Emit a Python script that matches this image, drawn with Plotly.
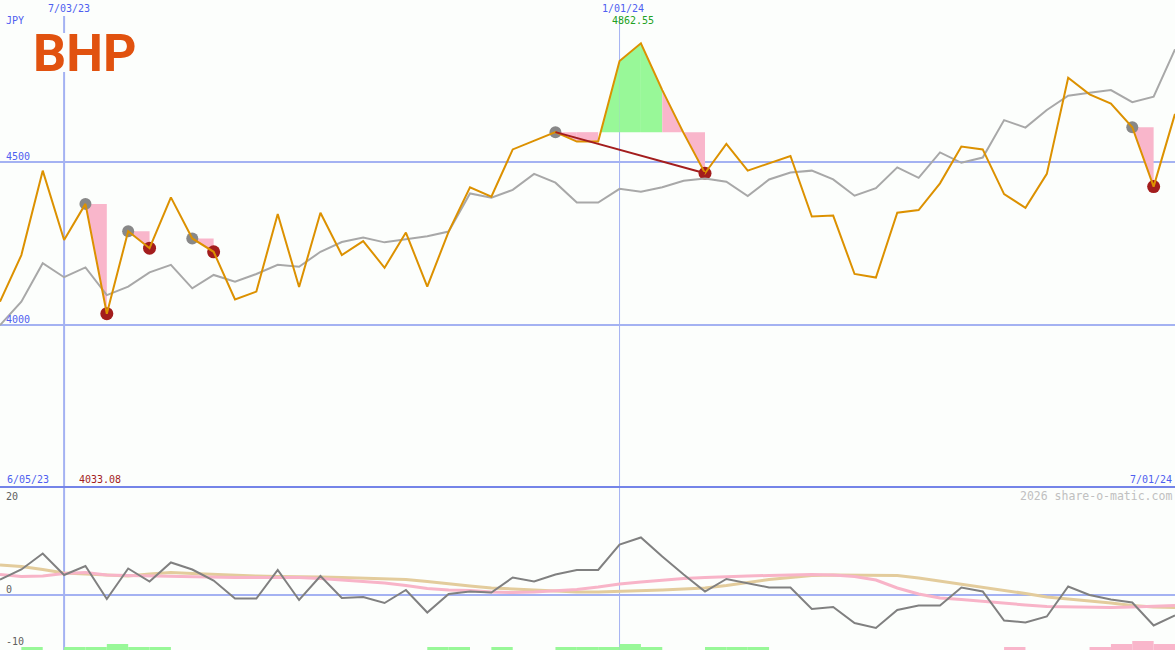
import plotly.graph_objects as go
import pandas as pd

# ---------------- data ----------------
dates = pd.date_range("2023-06-12", periods=56, freq="7D")

price = [4070, 4213, 4472, 4259, 4370, 4033.08, 4286, 4234, 4390, 4264,
         4223, 4077, 4101, 4339, 4115, 4343, 4213, 4256, 4174, 4282,
         4116, 4285, 4421, 4392, 4537, 4563, 4590, 4561, 4561, 4808,
         4862.55, 4719, 4587, 4464, 4554, 4472, 4494, 4517, 4331, 4334,
         4155, 4144, 4343, 4351, 4433, 4546, 4537, 4400, 4358, 4462,
         4757, 4706, 4678, 4605, 4423, 4646]

avg = [3998, 4070, 4188, 4145, 4175, 4090, 4116, 4160, 4183, 4111,
       4152, 4131, 4155, 4183, 4177, 4223, 4253, 4267, 4252, 4261,
       4271, 4285, 4402, 4389, 4413, 4462, 4435, 4374, 4374, 4416,
       4407, 4421, 4441, 4448, 4438, 4394, 4445, 4466, 4472, 4445,
       4395, 4418, 4482, 4450, 4528, 4496, 4512, 4627, 4604, 4658,
       4702, 4711, 4719, 4682, 4699, 4844]

momentum = [3.1, 5.1, 8.3, 4.0, 5.8, -0.8, 5.3, 2.7, 6.5, 5.1,
            2.9, -0.7, -0.7, 5.0, -1.0, 3.8, -0.6, -0.4, -1.6, 1.0,
            -3.5, 0.2, 0.7, 0.5, 3.5, 2.7, 4.1, 5.0, 5.0, 10.1,
            11.5, 7.7, 4.1, 0.7, 3.2, 2.3, 1.5, 1.5, -2.8, -2.4,
            -5.6, -6.6, -3.0, -2.1, -2.1, 1.5, 0.7, -5.1, -5.5, -4.3,
            1.7, 0.0, -0.9, -1.5, -6.1, -4.1]

signal_fast = [4.1, 3.7, 3.8, 4.3, 4.5, 4.0, 3.9, 3.8, 3.8, 3.7,
               3.6, 3.5, 3.5, 3.5, 3.5, 3.3, 3.0, 2.7, 2.4, 1.9,
               1.3, 1.0, 0.9, 0.6, 0.5, 0.6, 0.8, 1.1, 1.6, 2.2,
               2.6, 3.0, 3.3, 3.5, 3.7, 3.8, 3.9, 4.0, 4.1, 4.0,
               3.7, 3.0, 1.4, 0.2, -0.6, -0.9, -1.3, -1.6, -2.0, -2.3,
               -2.4, -2.5, -2.5, -2.4, -2.2, -2.1]

signal_slow = [6.0, 5.7, 5.1, 4.4, 4.2, 4.0, 3.8, 4.2, 4.5, 4.3,
               4.1, 3.9, 3.8, 3.7, 3.7, 3.6, 3.5, 3.4, 3.3, 3.1,
               2.7, 2.2, 1.8, 1.4, 1.2, 1.0, 0.8, 0.6, 0.6, 0.7,
               0.9, 1.0, 1.2, 1.4, 1.9, 2.5, 3.1, 3.5, 3.9, 4.0,
               4.0, 4.0, 3.9, 3.4, 2.8, 2.2, 1.6, 1.0, 0.3, -0.4,
               -0.8, -1.1, -1.6, -2.1, -2.4, -2.5]

green_lvl = [0, 1, 0, 1, 1, 2, 1, 1, 0, 0,
             0, 0, 0, 0, 0, 0, 0, 0, 0, 0,
             1, 1, 0, 1, 0, 0, 1, 1, 1, 2,
             1, 0, 0, 1, 1, 1, 0, 0, 0, 0,
             0, 0, 0, 0, 0, 0, 0, 0, 0, 0,
             0, 0, 0, 0, 0, 0]

pink_lvl = [0] * 47 + [1, 0, 0, 0, 1, 2, 3, 2, 0]

# (peak index, trough index)
drawdowns = [(4, 5), (6, 7), (9, 10), (26, 33), (53, 54)]
main_drawdown = (26, 33)

date_labels = ["6/05/23", "7/03/23", "1/01/24", "7/01/24"]
currency = "JPY"
ticker = "BHP"
watermark = "2026 share-o-matic.com"
y_ticks_top = [4000, 4500]
y_ticks_bottom = [-10, 0, 20]

# ---------------- styles ----------------
W, H = 1175, 650
SPLIT = 487  # pixel row dividing panels
BG = "#fcfefc"
GRID = "#a4b2f2"
DIVIDER = "#7484e8"
LABEL = "#4f5ff0"
ORANGE = "#dc9100"
GRAYLINE = "#a8a8a8"
DARKGRAY = "#808080"
PINK = "#f9b6cb"
GREEN = "#98f898"
DARKRED = "#a31d1d"
TAN = "#e3cc9c"
PINKLINE = "#f8b4c8"
FONT = "DejaVu Sans Mono"

week = pd.Timedelta(days=7)

fig = go.Figure()

# drawdown fills
for p, t in drawdowns:
    level = price[p]
    for j in range(p, t):
        x0, x1 = dates[j], dates[j + 1]
        y0, y1 = price[j], price[j + 1]
        if y1 > level:
            if y0 < level:
                f = (level - y0) / (y1 - y0)
                xc = x0 + (x1 - x0) * f
                xs = [xc, x1, x1, xc]
                ys = [level, y1, level, level]
            else:
                xs = [x0, x0, x1, x1, x0]
                ys = [level, y0, y1, level, level]
            col = GREEN
        else:
            xs = [x0, x0, x1, x1, x0]
            ys = [level, y0, y1, level, level]
            col = PINK
        fig.add_trace(go.Scatter(x=xs, y=ys, fill="toself", fillcolor=col,
                                 mode="none", hoverinfo="skip", xaxis="x", yaxis="y"))

# peak / trough markers
fig.add_trace(go.Scatter(x=[dates[p] for p, t in drawdowns], y=[price[p] for p, t in drawdowns],
                         mode="markers", marker=dict(size=12, color="#888888"),
                         xaxis="x", yaxis="y"))
fig.add_trace(go.Scatter(x=[dates[t] for p, t in drawdowns], y=[price[t] for p, t in drawdowns],
                         mode="markers", marker=dict(size=13, color=DARKRED),
                         xaxis="x", yaxis="y"))

# lines
fig.add_trace(go.Scatter(x=dates, y=avg, mode="lines", line=dict(color=GRAYLINE, width=2),
                         xaxis="x", yaxis="y"))
fig.add_trace(go.Scatter(x=dates, y=price, mode="lines", line=dict(color=ORANGE, width=2),
                         xaxis="x", yaxis="y"))
mp, mt = main_drawdown
fig.add_trace(go.Scatter(x=[dates[mp], dates[mt]], y=[price[mp], price[mt]], mode="lines",
                         line=dict(color=DARKRED, width=2), xaxis="x", yaxis="y"))

# bottom panel
fig.add_trace(go.Bar(x=dates + week / 2, y=green_lvl, width=week.total_seconds() * 1000,
                     marker=dict(color=GREEN, line=dict(width=0)), xaxis="x2", yaxis="y3"))
fig.add_trace(go.Bar(x=dates + week / 2, y=pink_lvl, width=week.total_seconds() * 1000,
                     marker=dict(color=PINK, line=dict(width=0)), xaxis="x2", yaxis="y3"))
fig.add_trace(go.Scatter(x=dates, y=signal_slow, mode="lines", line=dict(color=TAN, width=3),
                         xaxis="x2", yaxis="y2"))
fig.add_trace(go.Scatter(x=dates, y=signal_fast, mode="lines", line=dict(color=PINKLINE, width=3),
                         xaxis="x2", yaxis="y2"))
fig.add_trace(go.Scatter(x=dates, y=momentum, mode="lines", line=dict(color=DARKGRAY, width=2),
                         xaxis="x2", yaxis="y2"))

split_frac = 1 - SPLIT / H

# pixel -> value conversions for the axis ranges (top: 4500 at row 161.5, 4000 at 324.5)
px_per_unit_top = (324.5 - 161.5) / 500.0
top_max = 4500 + 161.5 / px_per_unit_top
top_min = 4500 - (SPLIT - 161.5) / px_per_unit_top
px_per_unit_bot = 5.0
bot_max = (595 - SPLIT) / px_per_unit_bot
bot_min = -(H - 595) / px_per_unit_bot

xr = [dates[0], dates[-1]]
fig.update_layout(
    width=W, height=H, margin=dict(l=0, r=0, t=0, b=0),
    paper_bgcolor=BG, plot_bgcolor=BG, showlegend=False, barmode="overlay",
    xaxis=dict(domain=[0, 1], range=xr, visible=False, anchor="y"),
    xaxis2=dict(domain=[0, 1], range=xr, visible=False, anchor="y2", matches="x"),
    yaxis=dict(domain=[split_frac, 1], range=[top_min, top_max], tickvals=y_ticks_top,
               showticklabels=False, showgrid=True, gridcolor=GRID, gridwidth=2,
               zeroline=False, showline=False, ticks=""),
    yaxis2=dict(domain=[0, split_frac], range=[bot_min, bot_max], tickvals=y_ticks_bottom,
                showticklabels=False, showgrid=False, zeroline=True, zerolinecolor=GRID,
                zerolinewidth=2, showline=False, ticks="", anchor="x2"),
    yaxis3=dict(overlaying="y2", anchor="x2", range=[0, (H - SPLIT) / 3.0], visible=False),
)


def vline(xval, y_top_px, y_bot_px, width):
    fig.add_shape(type="line", xref="x", yref="paper", x0=xval, x1=xval,
                  y0=1 - y_bot_px / H, y1=1 - y_top_px / H,
                  line=dict(color=GRID, width=width), layer="below")


# vertical date lines (the first one is interrupted by the logo) and panel divider
vline(dates[3], 16, 33, 2)
vline(dates[3], 72, H, 2)
vline(dates[29], 16, H, 1)
fig.add_shape(type="line", xref="paper", yref="paper", x0=0, x1=1, y0=split_frac, y1=split_frac,
              line=dict(color=DIVIDER, width=2), layer="above")


def ann(text, x, y, color, size=10, xanchor="left", family=FONT, **kw):
    fig.add_annotation(text=text, x=x / W, y=1 - y / H, xref="paper", yref="paper",
                       xanchor=xanchor, yanchor="middle", showarrow=False,
                       font=dict(family=family, size=size, color=color), borderpad=0, **kw)


ann(date_labels[1], 68.5, 9, LABEL, xanchor="center")
ann(date_labels[2], 623.3, 9, LABEL, xanchor="center")
ann(f"{max(price):.2f}", 632.5, 21, "#22a022", xanchor="center")
ann(currency, 5, 21, LABEL)
ann(str(y_ticks_top[1]), 5, 156, LABEL)
ann(str(y_ticks_top[0]), 5, 319, LABEL)
ann(date_labels[0], 6, 479, LABEL)
ann(f"{min(price):.2f}", 78, 479, DARKRED)
ann(date_labels[3], 1173, 479, LABEL, xanchor="right")
ann(watermark, 1173, 496, "#c0c0c0", size=11.5, xanchor="right")
ann(str(y_ticks_bottom[2]), 5, 496, "#606060")
ann(str(y_ticks_bottom[1]), 5, 589, "#606060")
ann(str(y_ticks_bottom[0]), 5, 641, "#606060")
ann(f"<b>{ticker}</b>", 84, 53, "#e1520f", size=52, xanchor="center", family="Roboto")

fig.write_html("out.html", config={"displayModeBar": False},
               post_script="document.body.style.margin='0';document.body.style.padding='0';")
